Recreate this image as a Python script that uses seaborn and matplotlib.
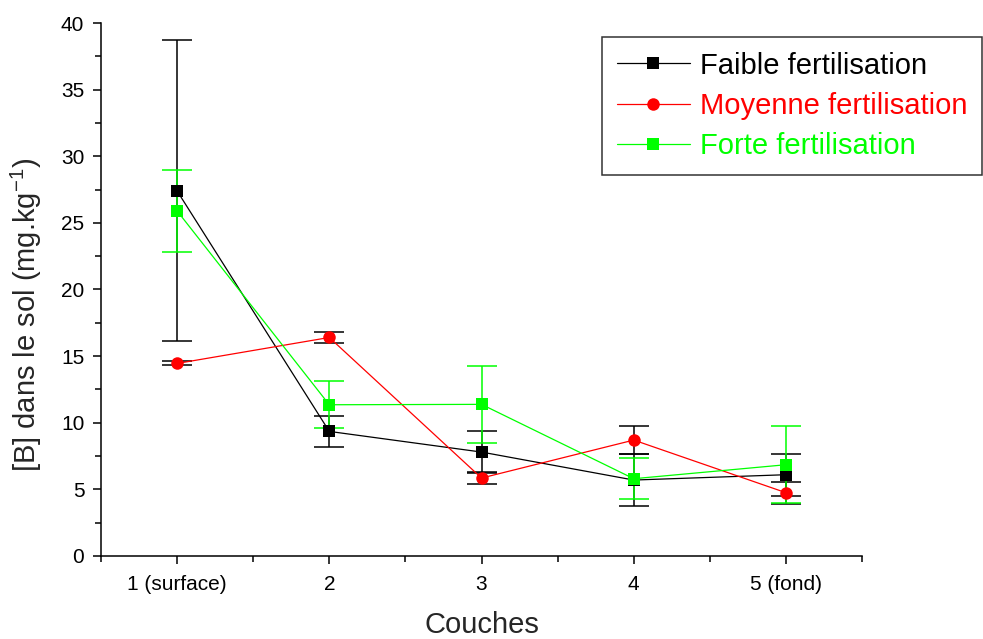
import matplotlib

matplotlib.use("Agg")
import matplotlib.pyplot as plt
import numpy as np
import pandas as pd
import seaborn as sns
from matplotlib.ticker import MultipleLocator

couches = [1, 2, 3, 4, 5]
couche_labels = ["1 (surface)", "2", "3", "4", "5 (fond)"]

series_names = ["Faible fertilisation", "Moyenne fertilisation", "Forte fertilisation"]
faible = [27.4, 9.35, 7.8, 5.7, 6.1]
faible_err = [11.3, 1.17, 1.6, 1.95, 1.57]
moyenne = [14.45, 16.4, 5.85, 8.7, 4.75]
moyenne_err = [0.15, 0.4, 0.43, 1.05, 0.83]
forte = [25.9, 11.35, 11.38, 5.8, 6.85]
forte_err = [3.05, 1.75, 2.87, 1.55, 2.87]

colors = {"Faible fertilisation": "#000000",
          "Moyenne fertilisation": "#ff0000",
          "Forte fertilisation": "#00ff00"}
err_colors = {"Faible fertilisation": "#000000",
              "Moyenne fertilisation": "#000000",
              "Forte fertilisation": "#00ff00"}
markers = {"Faible fertilisation": "s",
           "Moyenne fertilisation": "o",
           "Forte fertilisation": "s"}

sns.set_theme(style="ticks")
plt.rcParams["font.family"] = ["Liberation Sans", "DejaVu Sans"]
plt.rcParams["mathtext.default"] = "regular"

df = pd.DataFrame({
    "couche": couches * 3,
    "valeur": faible + moyenne + forte,
    "erreur": faible_err + moyenne_err + forte_err,
    "serie": np.repeat(series_names, len(couches)),
})

fig = plt.figure(figsize=(9.83, 6.39), dpi=100)
ax = fig.add_axes([0.1027, 0.1299, 0.7743, 0.8341])

for name in series_names:
    d = df[df["serie"] == name]
    ax.errorbar(d["couche"], d["valeur"], yerr=d["erreur"], fmt="none",
                ecolor=err_colors[name], elinewidth=1.1, capsize=11,
                capthick=1.1, zorder=2)

sns.lineplot(data=df, x="couche", y="valeur", hue="serie", style="serie",
             hue_order=series_names, style_order=series_names,
             palette=colors, markers=markers, dashes=False, linewidth=0.9,
             markersize=9, markeredgewidth=0, ax=ax, zorder=3, legend=False)

ax.set_xlim(0.5, 5.5)
ax.set_ylim(0, 40)
ax.set_xticks(couches)
ax.set_xticklabels(couche_labels)
ax.xaxis.set_minor_locator(MultipleLocator(0.5))
ax.yaxis.set_major_locator(MultipleLocator(5))
ax.yaxis.set_minor_locator(MultipleLocator(2.5))
ax.tick_params(which="major", direction="out", length=6, width=1.1,
               labelsize=15, color="black", labelcolor="black")
ax.tick_params(axis="x", which="major", pad=8)
ax.tick_params(axis="y", which="major", pad=6)
ax.tick_params(which="minor", direction="out", length=4, width=1.1,
               color="black")
sns.despine(ax=ax)
for side in ["left", "bottom"]:
    ax.spines[side].set_linewidth(1.1)
    ax.spines[side].set_color("black")

ax.set_xlabel("Couches", fontsize=21, labelpad=12)
ax.set_ylabel("[B] dans le sol (mg.kg$^{-1}$)", fontsize=21)
ax.yaxis.set_label_coords(-0.075, 0.452)
ax.grid(False)

handles = [plt.Line2D([], [], color=colors[n], marker=markers[n], linewidth=0.9,
                      markersize=9, markeredgewidth=0) for n in series_names]
leg = fig.legend(handles, series_names, loc="upper left",
                 bbox_to_anchor=(602 / 983, 1 - 37 / 639), fontsize=21,
                 frameon=True, fancybox=False, edgecolor="black",
                 handlelength=2.5, handletextpad=0.35, labelspacing=0.42,
                 borderpad=0.5, borderaxespad=0)
leg.get_frame().set_linewidth(1.1)
for text, n in zip(leg.get_texts(), series_names):
    text.set_color(colors[n])

fig.savefig("out.png", dpi=100)
